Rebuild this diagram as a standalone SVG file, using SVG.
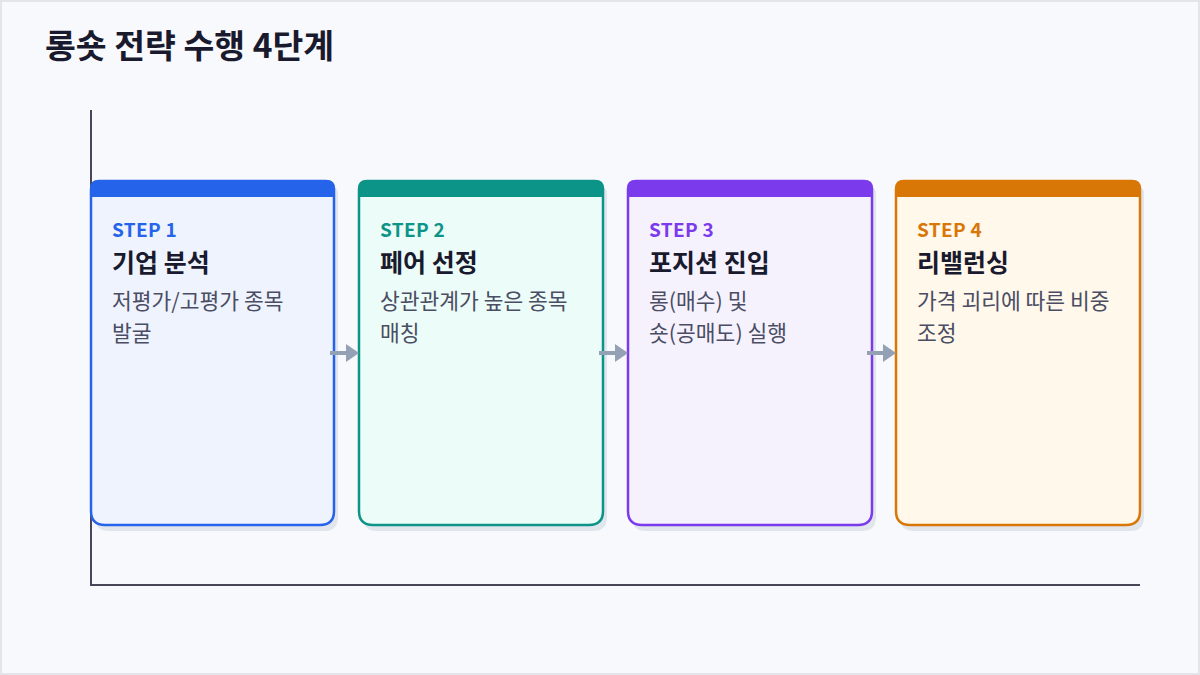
<svg xmlns="http://www.w3.org/2000/svg" width="1200" height="675" viewBox="0 0 1200 675">
<defs>
<style>
.bg{fill:#f8f9fd;stroke:#e3e5eb;stroke-width:2}
.axis{stroke:#474759;stroke-width:2;fill:none}
.title{font-family:"Noto Sans CJK KR","Noto Sans",sans-serif;font-weight:700;font-size:33.5px;fill:#1a1a2e}
.step{font-family:"Noto Sans CJK KR","Noto Sans",sans-serif;font-weight:700;font-size:19px;letter-spacing:0.3px}
.name{font-family:"Noto Sans CJK KR","Noto Sans",sans-serif;font-weight:700;font-size:25px;fill:#1a1a2e}
.desc{font-family:"Noto Sans CJK KR","Noto Sans",sans-serif;font-weight:400;font-size:21.5px;fill:#4a4d63}
.shadow{fill:#e1e5ec}
.conn{stroke:#94a0b4;stroke-width:4;fill:none}
.head{fill:#94a0b4}
</style>
</defs>
<rect class="bg" x="1" y="1" width="1198" height="673"/>
<text class="title" x="45" y="58">롱숏 전략 수행 4단계</text>
<path class="axis" d="M91 110 V585 H1140"/>

<g id="step1">
<path class="shadow" d="M103 186 H330 Q338 186 338 194 V517 Q338 531 324 531 H109 Q95 531 95 517 V194 Q95 186 103 186 Z"/>
<path d="M99 181 H326 Q334 181 334 189 V511 Q334 525 320 525 H105 Q91 525 91 511 V189 Q91 181 99 181 Z" fill="#eef3fe" stroke="#2563eb" stroke-width="2.5"/>
<path d="M99 181 H326 Q334 181 334 189 V197 H91 V189 Q91 181 99 181 Z" fill="#2563eb"/>
<text class="step" x="112" y="237" fill="#2563eb">STEP 1</text>
<text class="name" x="112" y="272">기업 분석</text>
<text class="desc" x="112" y="309">저평가/고평가 종목</text>
<text class="desc" x="112" y="341">발굴</text>
</g>

<g id="step2">
<path class="shadow" d="M371 186 H599 Q607 186 607 194 V517 Q607 531 593 531 H377 Q363 531 363 517 V194 Q363 186 371 186 Z"/>
<path d="M367 181 H595 Q603 181 603 189 V511 Q603 525 589 525 H373 Q359 525 359 511 V189 Q359 181 367 181 Z" fill="#ecfcf8" stroke="#0d9488" stroke-width="2.5"/>
<path d="M367 181 H595 Q603 181 603 189 V197 H359 V189 Q359 181 367 181 Z" fill="#0d9488"/>
<text class="step" x="380" y="237" fill="#0d9488">STEP 2</text>
<text class="name" x="380" y="272">페어 선정</text>
<text class="desc" x="380" y="309">상관관계가 높은 종목</text>
<text class="desc" x="380" y="341">매칭</text>
</g>

<g id="step3">
<path class="shadow" d="M640 186 H868 Q876 186 876 194 V517 Q876 531 862 531 H646 Q632 531 632 517 V194 Q632 186 640 186 Z"/>
<path d="M636 181 H864 Q872 181 872 189 V511 Q872 525 858 525 H642 Q628 525 628 511 V189 Q628 181 636 181 Z" fill="#f5f2fe" stroke="#7c3aed" stroke-width="2.5"/>
<path d="M636 181 H864 Q872 181 872 189 V197 H628 V189 Q628 181 636 181 Z" fill="#7c3aed"/>
<text class="step" x="649" y="237" fill="#7c3aed">STEP 3</text>
<text class="name" x="649" y="272">포지션 진입</text>
<text class="desc" x="649" y="309">롱(매수) 및</text>
<text class="desc" x="649" y="341">숏(공매도) 실행</text>
</g>

<g id="step4">
<path class="shadow" d="M908 186 H1136 Q1144 186 1144 194 V517 Q1144 531 1130 531 H914 Q900 531 900 517 V194 Q900 186 908 186 Z"/>
<path d="M904 181 H1132 Q1140 181 1140 189 V511 Q1140 525 1126 525 H910 Q896 525 896 511 V189 Q896 181 904 181 Z" fill="#fff8eb" stroke="#d97706" stroke-width="2.5"/>
<path d="M904 181 H1132 Q1140 181 1140 189 V197 H896 V189 Q896 181 904 181 Z" fill="#d97706"/>
<text class="step" x="917" y="237" fill="#d97706">STEP 4</text>
<text class="name" x="917" y="272">리밸런싱</text>
<text class="desc" x="917" y="309">가격 괴리에 따른 비중</text>
<text class="desc" x="917" y="341">조정</text>
</g>

<g id="connectors">
<line class="conn" x1="330" y1="353" x2="346" y2="353"/>
<path class="head" d="M346 344 L359 353 L346 362 Z"/>
<line class="conn" x1="599" y1="353" x2="615" y2="353"/>
<path class="head" d="M615 344 L628 353 L615 362 Z"/>
<line class="conn" x1="867" y1="353" x2="883" y2="353"/>
<path class="head" d="M883 344 L896 353 L883 362 Z"/>
</g>
</svg>
